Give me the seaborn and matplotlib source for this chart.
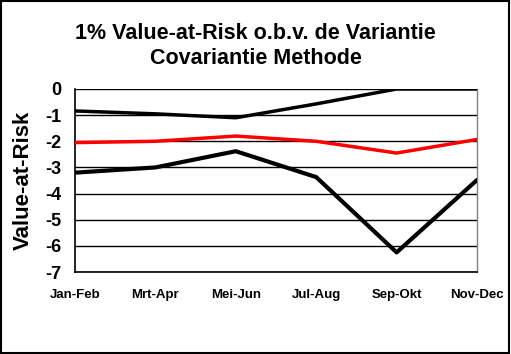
import matplotlib
matplotlib.use("Agg")
import matplotlib.pyplot as plt
import pandas as pd
import seaborn as sns

# Chart data
periods = ["Jan-Feb", "Mrt-Apr", "Mei-Jun", "Jul-Aug", "Sep-Okt", "Nov-Dec"]
upper = [-0.84, -0.95, -1.1, -0.57, 0.0, 0.0]
middle = [-2.05, -2.0, -1.8, -2.0, -2.45, -1.93]
lower = [-3.2, -3.0, -2.38, -3.37, -6.25, -3.48]
y_ticks = [0, -1, -2, -3, -4, -5, -6, -7]


def main():
    df = pd.DataFrame({"pos": range(len(periods)), "upper": upper,
                       "middle": middle, "lower": lower})

    sns.set_style("white")
    plt.rcParams["font.family"] = ["Liberation Sans", "DejaVu Sans"]
    plt.rcParams["text.color"] = "black"
    plt.rcParams["axes.labelcolor"] = "black"

    fig = plt.figure(figsize=(5.11, 3.54), dpi=100)
    ax = fig.add_axes([0.1468, 0.2316, 0.9335 - 0.1468, 0.7486 - 0.2316])

    # horizontal gridlines at each integer
    for t in y_ticks:
        ax.axhline(t, color="black", lw=1.0, zorder=1)

    sns.lineplot(data=df, x="pos", y="middle", color="#ff0000", lw=2.5, ax=ax, zorder=3)
    sns.lineplot(data=df, x="pos", y="upper", color="black", lw=2.5, ax=ax, zorder=3)
    sns.lineplot(data=df, x="pos", y="lower", color="black", lw=3.0, ax=ax, zorder=3)

    ax.set_xlim(0, len(periods) - 1)
    ax.set_ylim(-7, 0)
    ax.set_xticks(range(len(periods)))
    ax.set_xticklabels(periods, fontsize=9.5, fontweight="bold", color="black")
    ax.set_yticks(y_ticks)
    ax.set_yticklabels([str(t) for t in y_ticks], fontsize=13, fontweight="bold", color="black")
    ax.tick_params(axis="both", direction="out", length=4, width=1, colors="black", pad=6)
    ax.tick_params(axis="x", pad=8)
    ax.set_xlabel("")
    ax.set_ylabel("Value-at-Risk", fontsize=16, fontweight="bold", color="black", labelpad=8)

    for side in ["left", "bottom"]:
        ax.spines[side].set_color("black")
        ax.spines[side].set_linewidth(1.2)
    for side in ["right", "top"]:
        ax.spines[side].set_color("#808080")
        ax.spines[side].set_linewidth(1.0)
    ax.spines["top"].set_visible(False)

    fig.text(0.5, 0.935, "1% Value-at-Risk o.b.v. de Variantie\nCovariantie Methode",
             ha="center", va="top", fontsize=15.5, fontweight="bold", color="black",
             linespacing=1.25)

    # outer black border of the chart
    fig.patches.append(plt.Rectangle((0.002, 0.003), 0.995, 0.994, transform=fig.transFigure,
                                     fill=False, edgecolor="black", lw=1.5))

    fig.savefig("out.png", dpi=100)
    plt.close(fig)


if __name__ == "__main__":
    main()
